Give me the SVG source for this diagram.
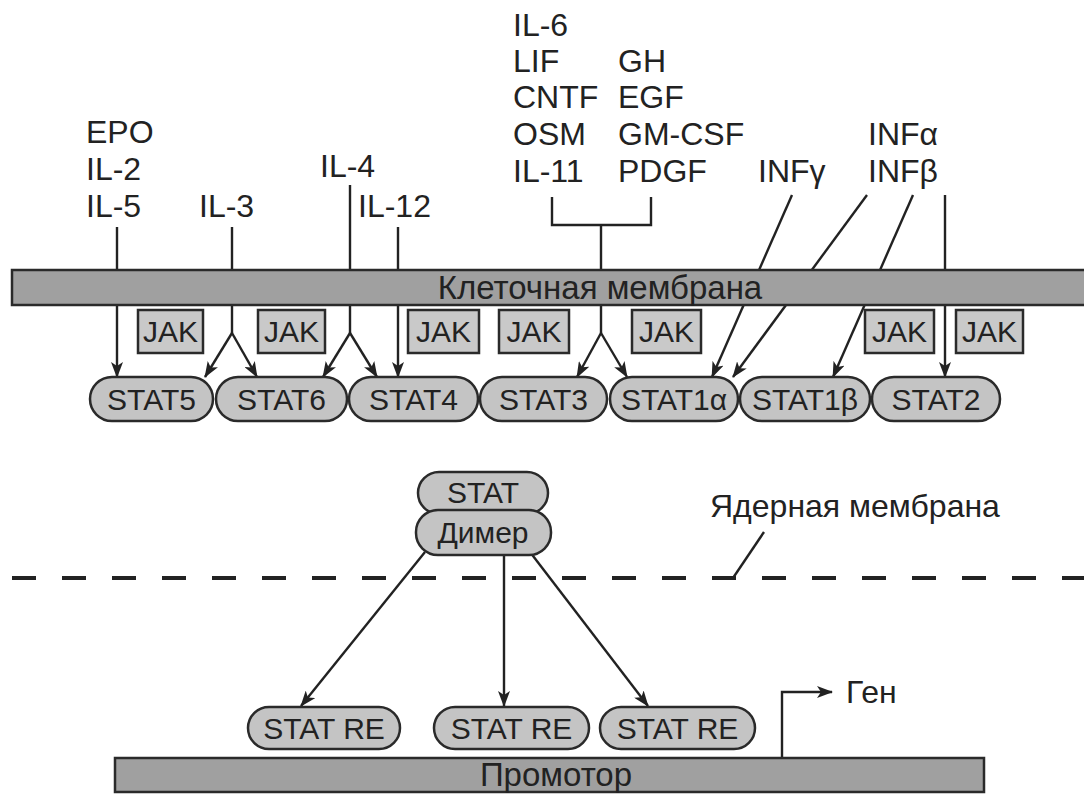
<svg xmlns="http://www.w3.org/2000/svg" width="1084" height="794" viewBox="0 0 1084 794">
<style>
  text { font-family: "Liberation Sans", Arial, sans-serif; fill: #222; }
  .lbl { font-size: 32px; }
  .node text { font-size: 30px; text-anchor: middle; }
  .stat { fill: #c4c4c4; stroke: #2a2a2a; stroke-width: 2.5; }
  .jak { fill: #c9c9c9; stroke: #2a2a2a; stroke-width: 2.5; }
  .bar { fill: #a0a0a0; stroke: #2a2a2a; stroke-width: 2.5; }
  .ln { fill: none; stroke: #222; stroke-width: 2.4; }
  .arr { fill: none; stroke: #222; stroke-width: 2.4; marker-end: url(#ah); }
</style>
<defs>
  <marker id="ah" markerUnits="userSpaceOnUse" markerWidth="16" markerHeight="12" refX="15" refY="6" orient="auto">
    <path d="M0,0 L16,6 L0,12 L4,6 z" fill="#222"/>
  </marker>
</defs>
<rect width="1084" height="794" fill="#fff"/>

<g id="labels">
  <text class="lbl" x="86" y="143">EPO</text>
  <text class="lbl" x="86" y="180">IL-2</text>
  <text class="lbl" x="86" y="217">IL-5</text>
  <text class="lbl" x="199" y="217">IL-3</text>
  <text class="lbl" x="320" y="177">IL-4</text>
  <text class="lbl" x="358" y="217">IL-12</text>
  <text class="lbl" x="513" y="36">IL-6</text>
  <text class="lbl" x="513" y="72">LIF</text>
  <text class="lbl" x="513" y="108">CNTF</text>
  <text class="lbl" x="513" y="145">OSM</text>
  <text class="lbl" x="513" y="182">IL-11</text>
  <text class="lbl" x="618" y="72">GH</text>
  <text class="lbl" x="618" y="108">EGF</text>
  <text class="lbl" x="618" y="145">GM-CSF</text>
  <text class="lbl" x="618" y="182">PDGF</text>
  <text class="lbl" x="758" y="182">INFγ</text>
  <text class="lbl" x="868" y="145">INFα</text>
  <text class="lbl" x="868" y="182">INFβ</text>
</g>

<g id="connectors">
  <line class="arr" x1="117" y1="227" x2="117" y2="377"/>
  <polyline class="ln" points="232,227 232,333"/>
  <line class="arr" x1="232" y1="333" x2="205" y2="377"/>
  <line class="arr" x1="232" y1="333" x2="257" y2="377"/>
  <polyline class="ln" points="350,185 350,333"/>
  <line class="arr" x1="350" y1="333" x2="323" y2="377"/>
  <line class="arr" x1="350" y1="333" x2="377" y2="377"/>
  <line class="arr" x1="398" y1="227" x2="398" y2="377"/>
  <polyline class="ln" points="552,197 552,225 651,225 651,197"/>
  <polyline class="ln" points="601,225 601,333"/>
  <line class="arr" x1="601" y1="333" x2="577" y2="377"/>
  <line class="arr" x1="601" y1="333" x2="627" y2="377"/>
  <line class="arr" x1="792" y1="195" x2="712" y2="377"/>
  <line class="arr" x1="867" y1="195" x2="733" y2="377"/>
  <line class="arr" x1="913" y1="195" x2="833" y2="377"/>
  <line class="arr" x1="945" y1="195" x2="945" y2="377"/>
  <line class="arr" x1="425" y1="552" x2="301" y2="706"/>
  <line class="arr" x1="504" y1="555" x2="504" y2="706"/>
  <line class="arr" x1="530" y1="552" x2="648" y2="706"/>
  <polyline class="arr" points="782,758 782,692 832,692"/>
  <line class="ln" x1="764" y1="532" x2="733" y2="578"/>
  <line x1="12" y1="578" x2="1084" y2="578" stroke="#222" stroke-width="4" stroke-dasharray="24 26"/>
</g>

<g id="cell-membrane">
  <rect class="bar" x="12" y="270" width="1080" height="35"/>
  <text x="600" y="299" font-size="33" text-anchor="middle">Клеточная мембрана</text>
</g>

<g id="jak1" class="node"><rect class="jak" x="138" y="310" width="65" height="43"/><text x="170.5" y="342">JAK</text></g>
<g id="jak2" class="node"><rect class="jak" x="258" y="310" width="67" height="43"/><text x="291.5" y="342">JAK</text></g>
<g id="jak3" class="node"><rect class="jak" x="408" y="310" width="71" height="43"/><text x="443.5" y="342">JAK</text></g>
<g id="jak4" class="node"><rect class="jak" x="499" y="310" width="70" height="43"/><text x="534" y="342">JAK</text></g>
<g id="jak5" class="node"><rect class="jak" x="632" y="310" width="69" height="43"/><text x="666.5" y="342">JAK</text></g>
<g id="jak6" class="node"><rect class="jak" x="865" y="310" width="69" height="43"/><text x="899.5" y="342">JAK</text></g>
<g id="jak7" class="node"><rect class="jak" x="956" y="310" width="67" height="43"/><text x="989.5" y="342">JAK</text></g>

<g id="stat5" class="node"><rect class="stat" x="90" y="377" width="123" height="44" rx="22"/><text x="151.5" y="410">STAT5</text></g>
<g id="stat6" class="node"><rect class="stat" x="216" y="377" width="131" height="44" rx="22"/><text x="281.5" y="410">STAT6</text></g>
<g id="stat4" class="node"><rect class="stat" x="349" y="377" width="129" height="44" rx="22"/><text x="413.5" y="410">STAT4</text></g>
<g id="stat3" class="node"><rect class="stat" x="480" y="377" width="127" height="44" rx="22"/><text x="543.5" y="410">STAT3</text></g>
<g id="stat1a" class="node"><rect class="stat" x="610" y="377" width="128" height="44" rx="22"/><text x="674" y="410">STAT1α</text></g>
<g id="stat1b" class="node"><rect class="stat" x="740" y="377" width="130" height="44" rx="22"/><text x="805" y="410">STAT1β</text></g>
<g id="stat2" class="node"><rect class="stat" x="872" y="377" width="128" height="44" rx="22"/><text x="936" y="410">STAT2</text></g>

<g id="stat-dimer" class="node">
  <rect class="stat" x="418" y="472" width="130" height="42" rx="21"/>
  <text x="483" y="503" font-size="30">STAT</text>
  <rect class="stat" x="416" y="510" width="135" height="45" rx="22"/>
  <text x="483" y="543" font-size="30">Димер</text>
</g>

<g id="nuclear-membrane-label">
  <text x="710" y="517" font-size="32">Ядерная мембрана</text>
</g>

<g id="statre1" class="node"><rect class="stat" x="248" y="707" width="152" height="42" rx="21"/><text x="324" y="739" font-size="31">STAT RE</text></g>
<g id="statre2" class="node"><rect class="stat" x="434" y="707" width="155" height="42" rx="21"/><text x="511.5" y="739" font-size="31">STAT RE</text></g>
<g id="statre3" class="node"><rect class="stat" x="600" y="707" width="155" height="42" rx="21"/><text x="677.5" y="739" font-size="31">STAT RE</text></g>

<g id="gene-label"><text x="846" y="703" font-size="32">Ген</text></g>

<g id="promoter">
  <rect class="bar" x="115" y="758" width="869" height="34"/>
  <text x="556" y="786" font-size="33" text-anchor="middle">Промотор</text>
</g>
</svg>
